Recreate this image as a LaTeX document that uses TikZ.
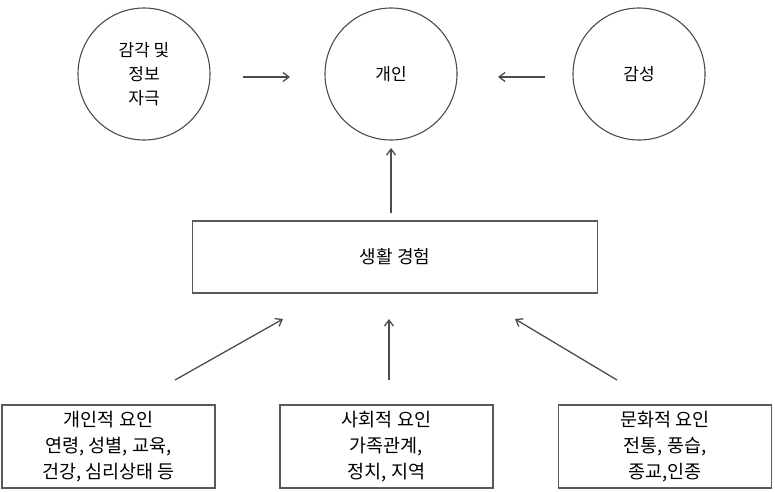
\documentclass[tikz,border=0pt]{standalone}
\usepackage{fontspec}
\setmainfont{Noto Sans CJK KR}
\usetikzlibrary{arrows.meta}
\begin{document}
\begin{tikzpicture}[x=1pt,y=-1pt,
  circ/.style={circle,draw=black!70,line width=1.1pt,minimum size=132pt,inner sep=0pt,font=\fontsize{17}{24}\selectfont,align=center},
  lifebox/.style={draw=black!65,line width=1.6pt,minimum width=405pt,minimum height=72pt,inner sep=0pt,font=\fontsize{18}{22}\selectfont},
  factbox/.style={draw=black!65,line width=1.6pt,minimum width=213pt,minimum height=83pt,inner sep=0pt,font=\fontsize{18.5}{26}\selectfont,align=center},
  arr/.style={-{Straight Barb[length=6pt,width=9pt]},draw=black!70,line width=1.3pt}]
\useasboundingbox (0,0) rectangle (775,491);
\node[circ] (stim) at (144,74) {감각 및\\정보\\자극};
\node[circ] (ind) at (391,74) {개인};
\node[circ] (emo) at (639,74) {감성};
\node[lifebox] (life) at (395,257) {생활 경험};
\node[factbox] (f1) at (108.5,446.5) {개인적 요인\\연령, 성별, 교육,\\건강, 심리상태 등};
\node[factbox] (f2) at (386.5,446.5) {사회적 요인\\가족관계,\\정치, 지역};
\node[factbox] (f3) at (665,446.5) {문화적 요인\\전통, 풍습,\\종교,인종};
\coordinate (a1s) at (243,77); \coordinate (a1e) at (290,77);
\coordinate (a2s) at (545,77); \coordinate (a2e) at (498,77);
\coordinate (a3s) at (391,213); \coordinate (a3e) at (391,148);
\coordinate (b1s) at (175,380); \coordinate (b1e) at (283,319);
\coordinate (b2s) at (389,380); \coordinate (b2e) at (389,319);
\coordinate (b3s) at (617,380); \coordinate (b3e) at (515,319);
\draw[arr] (a1s) -- (a1e);
\draw[arr] (a2s) -- (a2e);
\draw[arr] (a3s) -- (a3e);
\draw[arr] (b1s) -- (b1e);
\draw[arr] (b2s) -- (b2e);
\draw[arr] (b3s) -- (b3e);
\end{tikzpicture}
\end{document}
